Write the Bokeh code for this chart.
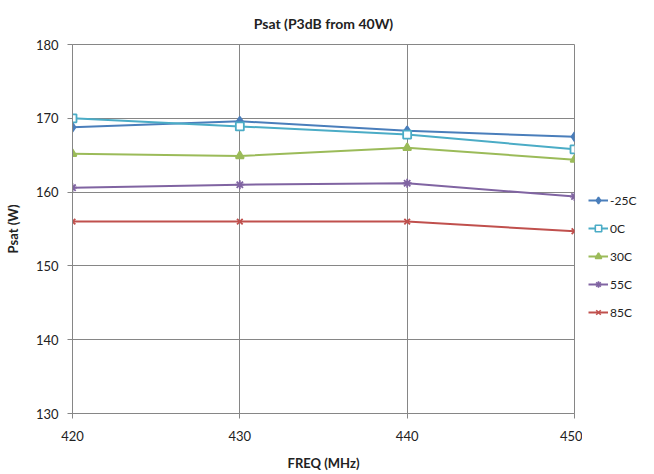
from bokeh.plotting import figure
from bokeh.models import Range1d, FixedTicker, Legend, LegendItem
from bokeh.layouts import row
from bokeh.embed import file_html
from bokeh.resources import INLINE

freq = [420, 430, 440, 450]
series_names = ["-25C", "0C", "30C", "55C", "85C"]
psat_m25 = [168.8, 169.6, 168.3, 167.5]
psat_0 = [170.0, 168.9, 167.8, 165.8]
psat_30 = [165.2, 164.9, 166.0, 164.4]
psat_55 = [160.6, 161.0, 161.2, 159.4]
psat_85 = [156.0, 156.0, 156.0, 154.7]
x_ticks = [420, 430, 440, 450]
y_ticks = [130, 140, 150, 160, 170, 180]

FONT = "Lato"
GRID = "#868686"
TXT = "#222222"

p = figure(frame_width=502, frame_height=369, output_backend="svg", toolbar_location=None,
           x_range=Range1d(420, 450), y_range=Range1d(130, 180),
           min_border_left=72, min_border_right=8, min_border_top=43, min_border_bottom=48,
           title="Psat (P3dB from 40W)")
p.title.align = "center"
p.title.text_font = FONT
p.title.text_font_size = "14px"
p.title.text_font_style = "bold"
p.title.text_color = TXT
p.title.offset = 0
p.title.standoff = 25

p.outline_line_color = GRID
p.outline_line_width = 1
p.background_fill_color = "white"
p.border_fill_color = "white"

for ax, ticks in ((p.xaxis[0], x_ticks), (p.yaxis[0], y_ticks)):
    ax.ticker = FixedTicker(ticks=ticks)
    ax.axis_line_color = GRID
    ax.major_tick_line_color = GRID
    ax.major_tick_out = 5
    ax.major_tick_in = 0
    ax.minor_tick_line_color = None
    ax.major_label_text_font = FONT
    ax.major_label_text_font_size = "13px"
    ax.major_label_text_color = TXT
    ax.axis_label_text_font = FONT
    ax.axis_label_text_font_size = "13px"
    ax.axis_label_text_font_style = "bold"
    ax.axis_label_text_color = TXT

p.xaxis.axis_label = "FREQ (MHz)"
p.yaxis.axis_label = "Psat (W)"
p.xaxis.major_label_standoff = 12
p.xaxis.axis_label_standoff = 11
p.yaxis.major_label_standoff = 9
p.yaxis.axis_label_standoff = 12

p.xgrid.ticker = FixedTicker(ticks=x_ticks)
p.ygrid.ticker = FixedTicker(ticks=y_ticks)
p.grid.grid_line_color = GRID
p.grid.grid_line_width = 1
p.grid.grid_line_alpha = 1

styles = [
    (psat_m25, "#4a7ebb", "diamond", 9, "#4a7ebb"),
    (psat_0, "#4bacc6", "square", 8, "white"),
    (psat_30, "#9bbb59", "triangle", 8, "#9bbb59"),
    (psat_55, "#8064a2", "asterisk", 9, None),
    (psat_85, "#c0504d", "x", 8, None),
]

# legend lives in its own narrow figure placed to the right of the chart;
# its ranges keep the proxy data out of view so only the legend shows
lf = figure(width=56, height=464, output_backend="svg", toolbar_location=None,
            x_axis_type=None, y_axis_type=None,
            x_range=Range1d(0, 1), y_range=Range1d(0, 1),
            min_border_left=0, min_border_right=0, min_border_top=0, min_border_bottom=0)
lf.outline_line_color = None
lf.grid.visible = False
lf.background_fill_color = "white"
lf.border_fill_color = "white"

items = []
for name, (vals, col, mk, sz, fill) in zip(series_names, styles):
    p.line(freq, vals, line_color=col, line_width=2)
    p.scatter(freq, vals, marker=mk, size=sz, line_color=col, line_width=1.8,
              fill_color=fill)
    l1 = lf.line(freq, vals, line_color=col, line_width=2)
    l2 = lf.scatter(freq, vals, marker=mk, size=sz - 1, line_color=col, line_width=1.6,
                    fill_color=fill)
    items.append(LegendItem(label=name, renderers=[l1, l2]))

legend = Legend(items=items, location=(6, 84), orientation="vertical")
legend.label_text_font = FONT
legend.label_text_font_size = "12px"
legend.label_text_color = TXT
legend.glyph_width = 20
legend.glyph_height = 16
legend.label_height = 16
legend.spacing = 12
legend.padding = 0
legend.margin = 0
legend.label_standoff = 2
legend.border_line_color = None
legend.background_fill_alpha = 0
lf.add_layout(legend, "center")

layout = row(p, lf)
open("out.html", "w").write(file_html(layout, INLINE))
